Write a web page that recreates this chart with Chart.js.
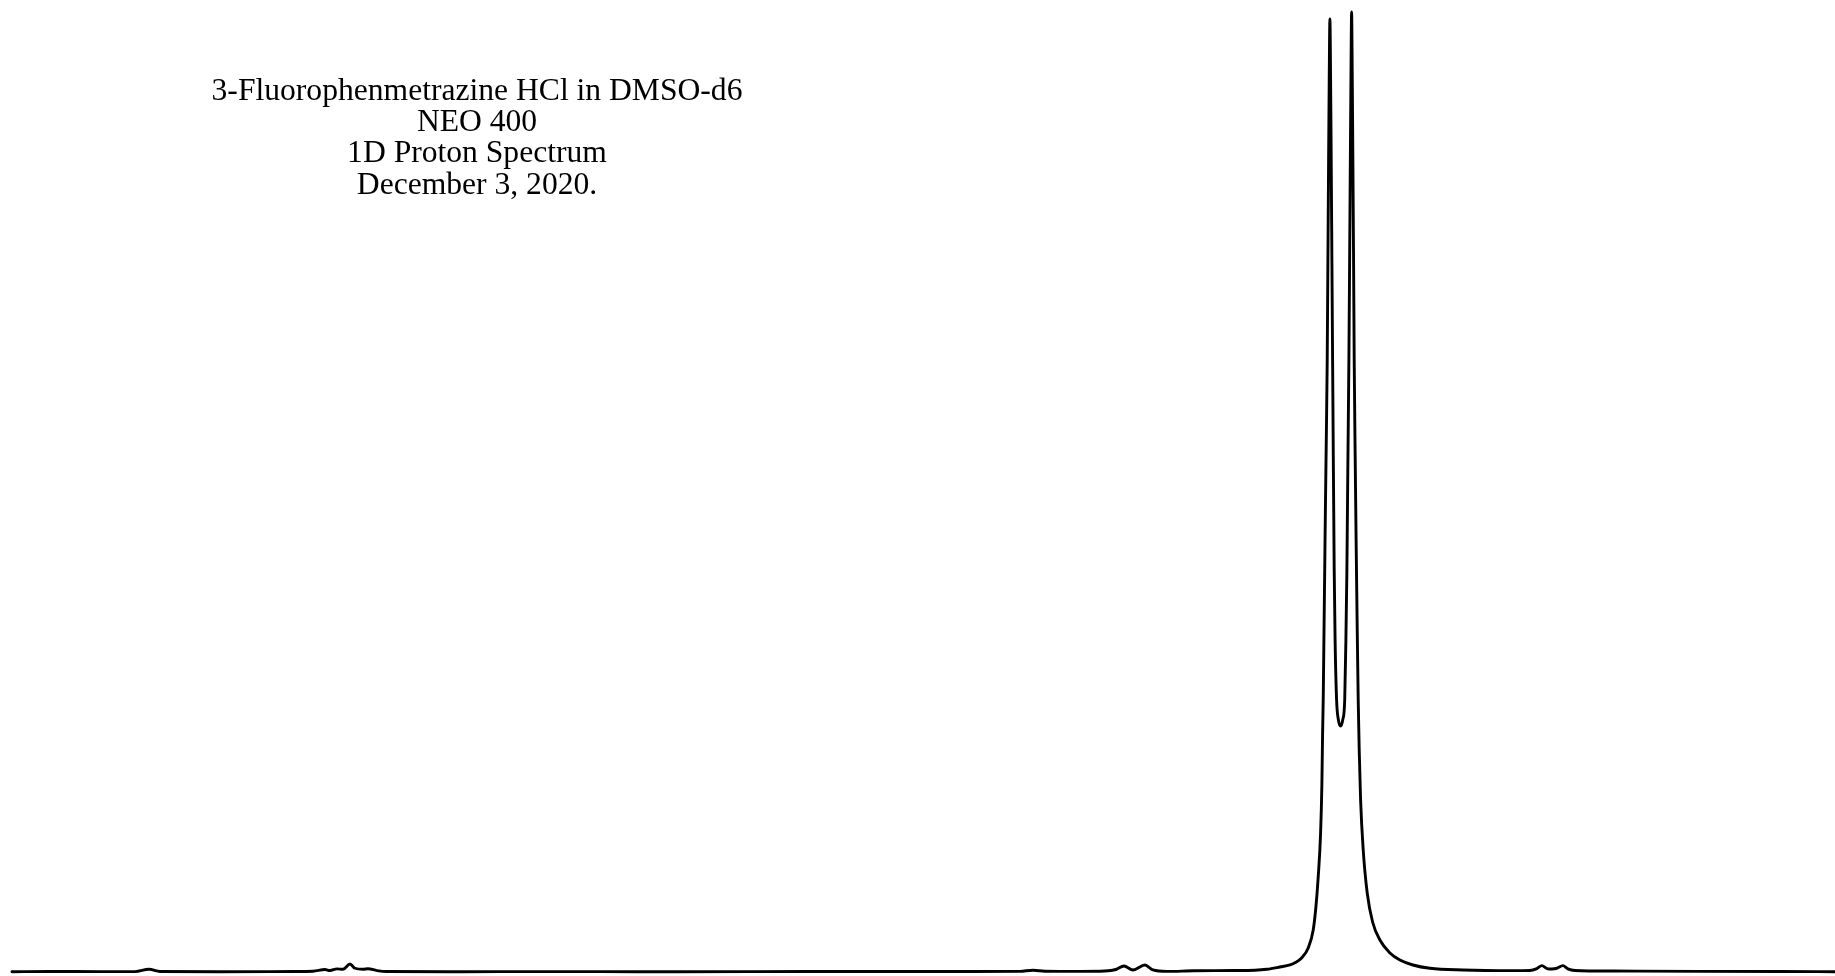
<!DOCTYPE html>
<html>
<head>
<meta charset="utf-8">
<style>
  html, body { margin: 0; padding: 0; background: #ffffff; }
  #wrap { width: 1835px; height: 976px; position: relative; }
</style>
<script src="https://cdn.jsdelivr.net/npm/chart.js@4.4.1/dist/chart.umd.min.js"></script>
</head>
<body>
<div id="wrap"><canvas id="c"></canvas></div>
<script>
// Chemical shift (ppm), left to right (decreasing)
const ppm = [
  1.74, 1.71207, 1.67532, 1.64960, 1.63930, 1.63122, 1.58712, 1.55037, 1.53347, 1.51877,
  1.50995, 1.50627, 1.50113, 1.49672, 1.49157, 1.48790, 1.48202, 1.47834, 1.47173, 1.46438,
  1.41807, 1.34457, 1.27107, 1.19757, 1.12407, 1.05057, 0.99912, 0.98957, 0.98075, 0.95502,
  0.93665, 0.92856, 0.92268, 0.91607, 0.90725, 0.90137, 0.89108, 0.87123, 0.84257,
  0.82640, 0.81758, 0.80802, 0.80067, 0.79700, 0.79207, 0.78722, 0.78354, 0.78156, 0.77987,
  0.77811, 0.77715, 0.77664, 0.77619, 0.77568, 0.77509, 0.77450, 0.77384, 0.77325, 0.77274,
  0.77223, 0.77178, 0.77127, 0.77076, 0.77031, 0.76980, 0.76929, 0.76870, 0.76811, 0.76745,
  0.76635, 0.76502, 0.76341, 0.76186, 0.76039, 0.75951, 0.75878, 0.75811, 0.75731, 0.75672,
  0.75620, 0.75576, 0.75532, 0.75488, 0.75444, 0.75392, 0.75341, 0.75275, 0.75201, 0.75128,
  0.75047, 0.74973, 0.74871, 0.74679, 0.74385, 0.73989, 0.73452, 0.72717, 0.71982, 0.71027,
  0.69777,
  0.67352, 0.63677, 0.62427, 0.61913, 0.61545, 0.61178, 0.60810, 0.60443, 0.60002,
  0.59634, 0.59120, 0.56327, 0.49932, 0.44052, 0.40
];
// Relative intensity (tallest line = 100)
const intensity = [
  0.03, 0.05, 0.04, 0.04, 0.28, 0.05, 0.03, 0.04, 0.05, 0.08,
  0.26, 0.15, 0.33, 0.28, 0.83, 0.39, 0.28, 0.34, 0.15, 0.05,
  0.03, 0.04, 0.03, 0.04, 0.05, 0.05, 0.07, 0.18, 0.08, 0.06,
  0.10, 0.26, 0.63, 0.21, 0.73, 0.21, 0.06, 0.13, 0.15,
  0.18, 0.28, 0.52, 0.73, 0.96, 1.46, 2.50, 4.38, 6.77, 9.90,
  14.48, 19.69, 24.90, 28.33, 34.58, 41.88, 49.17, 56.46, 63.75, 74.17,
  84.58, 92.92, 99.27, 92.92, 84.58, 74.17, 63.75, 52.29, 41.88, 34.58,
  28.33, 26.25, 25.63, 26.25, 28.33, 34.58, 41.88, 52.29, 63.75, 75.21,
  85.63, 93.96, 100.0, 93.96, 85.63, 75.21, 63.75, 54.38, 45.00, 36.67,
  28.33, 23.13, 17.92, 12.71, 8.23, 5.21, 3.33, 1.98, 1.25, 0.73,
  0.39,
  0.21, 0.14, 0.16, 0.36, 0.66, 0.36, 0.31, 0.39, 0.66,
  0.33, 0.16, 0.10, 0.07, 0.05, 0.03
];
const titleLines = [
  '3-Fluorophenmetrazine HCl in DMSO-d6',
  'NEO 400',
  '1D Proton Spectrum',
  'December 3, 2020.'
];
const ppmRange = [0.40, 1.74];
const intensityRange = [0, 100];

const points = ppm.map((x, i) => ({ x: x, y: intensity[i] }));

const titleBlock = {
  id: 'titleBlock',
  afterDraw(chart) {
    const ctx = chart.ctx;
    ctx.save();
    ctx.fillStyle = '#000000';
    ctx.font = '31.6px "Liberation Serif", "DejaVu Serif", serif';
    ctx.textAlign = 'center';
    ctx.textBaseline = 'alphabetic';
    const cx = 477, y0 = 100, lh = 31.2;
    titleLines.forEach((t, i) => ctx.fillText(t, cx, y0 + i * lh));
    ctx.restore();
  }
};

new Chart(document.getElementById('c'), {
  type: 'line',
  data: {
    datasets: [{
      data: points,
      borderColor: '#000000',
      borderWidth: 2.9,
      borderJoinStyle: 'round',
      borderCapStyle: 'round',
      pointRadius: 0,
      fill: false,
      cubicInterpolationMode: 'monotone',
      clip: false
    }]
  },
  options: {
    responsive: true,
    maintainAspectRatio: false,
    animation: false,
    layout: { padding: { left: 12, right: 0, top: 12, bottom: 4 } },
    scales: {
      x: { type: 'linear', reverse: true, min: ppmRange[0], max: ppmRange[1], display: false },
      y: { type: 'linear', min: intensityRange[0], max: intensityRange[1], display: false }
    },
    plugins: { legend: { display: false }, tooltip: { enabled: false }, title: { display: false } }
  },
  plugins: [titleBlock]
});
</script>
</body>
</html>
